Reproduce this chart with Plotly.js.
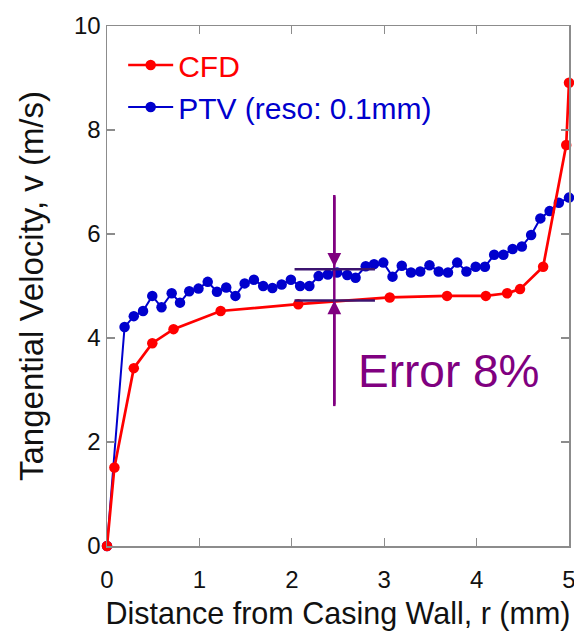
<!DOCTYPE html>
<html>
<head>
<meta charset="utf-8">
<script src="https://cdn.plot.ly/plotly-3.0.1.min.js"></script>
<style>html,body{margin:0;padding:0;background:#fff;}#chart{width:574px;height:634px;}</style>
</head>
<body>
<div id="chart"></div>
<script>
// CFD series (r in mm, v in m/s)
var cfdR = [0, 0.08, 0.29, 0.49, 0.72, 1.23, 2.07, 3.06, 3.68, 4.10, 4.33, 4.47, 4.72, 4.97, 5.0];
var cfdV = [0, 1.51, 3.42, 3.90, 4.17, 4.52, 4.65, 4.78, 4.81, 4.81, 4.86, 4.94, 5.37, 7.71, 8.91];

// PTV series (reso 0.1 mm)
var ptvR = [0, 0.19, 0.29, 0.39, 0.49, 0.59, 0.70, 0.79, 0.89, 0.99, 1.09, 1.19, 1.29, 1.39, 1.49, 1.59, 1.69, 1.79, 1.89, 1.99,
            2.09, 2.19, 2.29, 2.39, 2.49, 2.60, 2.69, 2.80, 2.89, 2.99, 3.09, 3.19, 3.29, 3.39, 3.49, 3.59, 3.69, 3.79, 3.89, 3.99,
            4.09, 4.19, 4.29, 4.39, 4.49, 4.59, 4.69, 4.79, 4.89, 5.0];
var ptvV = [0, 4.21, 4.42, 4.52, 4.81, 4.59, 4.86, 4.68, 4.90, 4.95, 5.08, 4.89, 4.97, 4.81, 5.05, 5.12, 5.00, 4.96, 5.03, 5.12,
            5.00, 5.00, 5.19, 5.22, 5.26, 5.21, 5.16, 5.38, 5.42, 5.45, 5.18, 5.39, 5.26, 5.28, 5.40, 5.28, 5.26, 5.45, 5.28, 5.37,
            5.37, 5.60, 5.60, 5.71, 5.76, 5.98, 6.30, 6.44, 6.60, 6.70];

// Tick labels
var xTicks = [0, 1, 2, 3, 4, 5];
var yTicks = [0, 2, 4, 6, 8, 10];

// Error annotation (data units)
var errX = 2.46, errTop = 6.75, errBottom = 2.69;
var errUpper = 5.32, errLower = 4.72;
var errSpan = [2.03, 2.90];
var errLabel = 'Error 8%';
var errLabelPos = [2.70, 3.37];

var FONT = 'Liberation Sans, Arial, sans-serif';
var PURPLE = '#800080';
var INDIGO = '#3c1470';

var traces = [
  {
    x: ptvR, y: ptvV, type: 'scatter', mode: 'lines+markers',
    name: '<span style="color:#0000cd">PTV (reso: 0.1mm)</span>',
    line: {color: '#0000cd', width: 2},
    marker: {color: '#0000cd', size: 10.5},
    cliponaxis: false, legendrank: 2
  },
  {
    x: cfdR, y: cfdV, type: 'scatter', mode: 'lines+markers',
    name: '<span style="color:#ff0000">CFD</span>',
    line: {color: '#ff0000', width: 2.7},
    marker: {color: '#ff0000', size: 10.5},
    cliponaxis: false, legendrank: 1
  }
];

var axisCommon = {
  showgrid: false, zeroline: false,
  showline: true, linecolor: '#8c8c8c', linewidth: 1.5,
  mirror: 'ticks', ticks: 'inside', ticklen: 8, tickwidth: 1.3, tickcolor: '#8c8c8c',
  tickfont: {family: FONT, size: 24, color: '#111'},
  ticklabeloverflow: 'allow'
};

var layout = {
  width: 574, height: 634,
  margin: {l: 107, r: 5, t: 26, b: 88},
  paper_bgcolor: '#fff', plot_bgcolor: '#fff',
  font: {family: FONT},
  showlegend: true,
  legend: {
    x: 0.035, y: 0.975, xanchor: 'left', yanchor: 'top',
    bgcolor: 'rgba(0,0,0,0)', borderwidth: 0,
    font: {family: FONT, size: 30, color: '#000'},
    itemwidth: 45
  },
  xaxis: Object.assign({}, axisCommon, {
    range: [0, 5], tickvals: xTicks, ticktext: xTicks.map(String),
    ticklabelstandoff: 12,
    title: {text: 'Distance from Casing Wall, r (mm)', font: {family: FONT, size: 30.5, color: '#111'}, standoff: 10}
  }),
  yaxis: Object.assign({}, axisCommon, {
    range: [0, 10], tickvals: yTicks, ticktext: yTicks.map(String),
    title: {text: 'Tangential Velocity, v (m/s)', font: {family: FONT, size: 33, color: '#111'}, standoff: 20}
  }),
  shapes: [
    {type: 'line', xref: 'x', yref: 'y', x0: errX, x1: errX, y0: errBottom, y1: errTop,
     line: {color: PURPLE, width: 2.5}, layer: 'above'},
    {type: 'line', xref: 'x', yref: 'y', x0: errSpan[0], x1: errSpan[1], y0: errUpper, y1: errUpper,
     line: {color: INDIGO, width: 2.5}, layer: 'above'},
    {type: 'line', xref: 'x', yref: 'y', x0: errSpan[0], x1: errSpan[1], y0: errLower, y1: errLower,
     line: {color: INDIGO, width: 2.5}, layer: 'above'}
  ],
  annotations: [
    {x: errX, y: errUpper + 0.05, ax: errX, ay: errTop, xref: 'x', yref: 'y', axref: 'x', ayref: 'y',
     text: '', showarrow: true, arrowhead: 2, arrowsize: 1.1, arrowwidth: 2.5, arrowcolor: PURPLE},
    {x: errX, y: errLower, ax: errX, ay: errBottom, xref: 'x', yref: 'y', axref: 'x', ayref: 'y',
     text: '', showarrow: true, arrowhead: 2, arrowsize: 1.1, arrowwidth: 2.5, arrowcolor: PURPLE},
    {x: errLabelPos[0], y: errLabelPos[1], xref: 'x', yref: 'y', xanchor: 'left', yanchor: 'middle',
     text: errLabel, showarrow: false, font: {family: FONT, size: 46, color: PURPLE}}
  ]
};

Plotly.newPlot('chart', traces, layout, {displayModeBar: false, staticPlot: true});
</script>
</body>
</html>
